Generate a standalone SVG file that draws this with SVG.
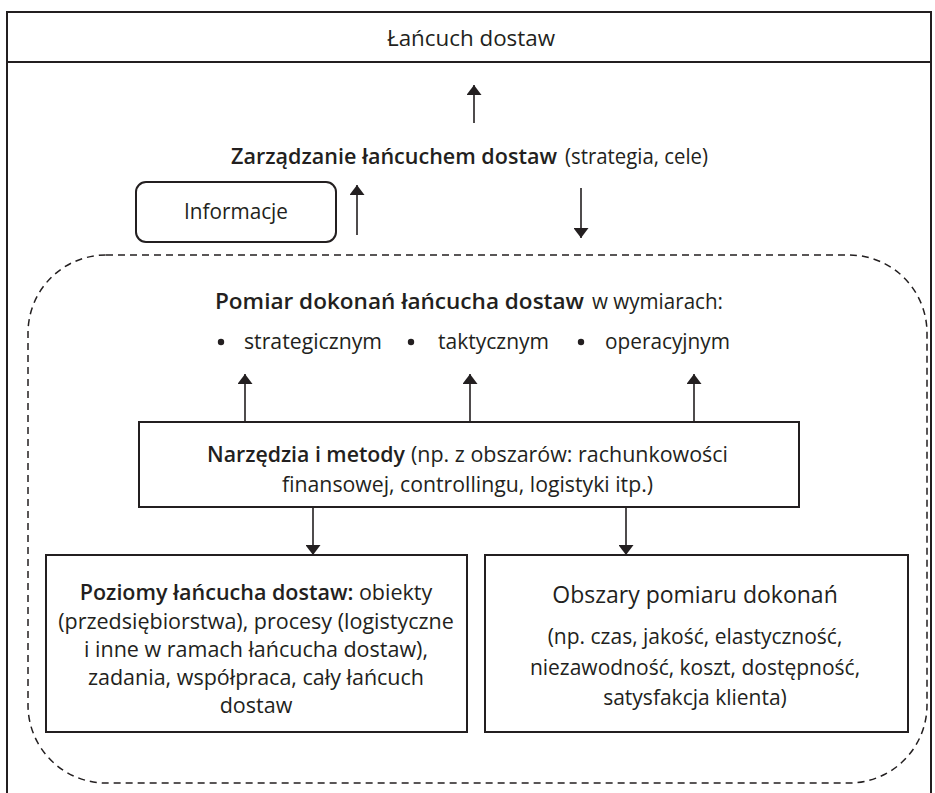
<svg xmlns="http://www.w3.org/2000/svg" width="935" height="793" viewBox="0 0 935 793">
<style>
.frame{fill:none;stroke:#231f20;stroke-width:2}
.box{fill:#fff;stroke:#231f20;stroke-width:2}
.dash{fill:none;stroke:#231f20;stroke-width:1.5;stroke-dasharray:7 5}
.conn line{stroke:#231f20;stroke-width:1.6}
.t{font-family:"Open Sans","Noto Sans",sans-serif;font-size:22px;fill:#231f20}
.b{font-family:"Open Sans","Noto Sans",sans-serif;font-size:21px;fill:#231f20}
.bl{font-size:21.5px}
.bold{font-weight:600}
</style>
<defs>
<marker id="ah" viewBox="0 0 10 15" refX="10" refY="7.5" markerWidth="10" markerHeight="15" markerUnits="userSpaceOnUse" orient="auto">
<path d="M0,0 L10,7.5 L0,15 Z" fill="#231f20"/>
</marker>
</defs>
<rect width="935" height="793" fill="#fff"/>

<g id="lancuch">
<rect class="frame" x="7" y="12" width="924" height="800"/>
<line class="frame" x1="7" y1="62" x2="931" y2="62"/>
<text class="t" x="387" y="46" textLength="168" lengthAdjust="spacingAndGlyphs">Łańcuch dostaw</text>
</g>

<g id="zarzadzanie">
<text class="t bold" x="231" y="164" textLength="326" lengthAdjust="spacingAndGlyphs">Zarządzanie łańcuchem dostaw</text>
<text class="t" x="565" y="164" textLength="143" lengthAdjust="spacingAndGlyphs">(strategia, cele)</text>
</g>

<g id="informacje">
<rect class="box" x="136" y="182" width="200" height="60" rx="10"/>
<text class="t" x="184" y="219" textLength="104" lengthAdjust="spacingAndGlyphs">Informacje</text>
</g>

<g id="pomiar">
<rect class="dash" x="28" y="255" width="899" height="528" rx="78"/>
<text class="t bold" x="215" y="309" textLength="369" lengthAdjust="spacingAndGlyphs">Pomiar dokonań łańcucha dostaw</text>
<text class="t" x="592" y="309" textLength="131" lengthAdjust="spacingAndGlyphs">w wymiarach:</text>
<circle cx="221" cy="342" r="3.2" fill="#231f20"/>
<text class="t" x="244" y="349" textLength="138" lengthAdjust="spacingAndGlyphs">strategicznym</text>
<circle cx="411" cy="342" r="3.2" fill="#231f20"/>
<text class="t" x="438" y="349" textLength="111" lengthAdjust="spacingAndGlyphs">taktycznym</text>
<circle cx="581" cy="342" r="3.2" fill="#231f20"/>
<text class="t" x="605" y="349" textLength="125" lengthAdjust="spacingAndGlyphs">operacyjnym</text>
</g>

<g id="narzedzia">
<rect class="box" x="139" y="422" width="660" height="85"/>
<text class="t bold" x="207" y="462" textLength="198" lengthAdjust="spacingAndGlyphs">Narzędzia i metody</text>
<text class="t" x="411" y="462" textLength="317" lengthAdjust="spacingAndGlyphs">(np. z obszarów: rachunkowości</text>
<text class="t" x="282" y="492" textLength="371" lengthAdjust="spacingAndGlyphs">finansowej, controllingu, logistyki itp.)</text>
</g>

<g id="poziomy">
<rect class="box" x="46" y="555" width="421" height="177"/>
<text class="b bl" x="256" text-anchor="middle"><tspan x="256" y="600"><tspan class="bold">Poziomy łańcucha dostaw:</tspan> obiekty</tspan><tspan x="256" y="629">(przedsiębiorstwa), procesy (logistyczne</tspan><tspan x="256" y="657">i inne w ramach łańcucha dostaw),</tspan><tspan x="256" y="685">zadania, współpraca, cały łańcuch</tspan><tspan x="256" y="713">dostaw</tspan></text>
</g>

<g id="obszary">
<rect class="box" x="485" y="555" width="423" height="177"/>
<text class="b" x="695" text-anchor="middle"><tspan x="695" y="603" font-size="23">Obszary pomiaru dokonań</tspan><tspan x="695" y="644">(np. czas, jakość, elastyczność,</tspan><tspan x="695" y="675">niezawodność, koszt, dostępność,</tspan><tspan x="695" y="705">satysfakcja klienta)</tspan></text>
</g>

<g id="connectors" class="conn">
<line x1="474" y1="123" x2="474" y2="85" marker-end="url(#ah)"/>
<line x1="357" y1="235" x2="357" y2="185" marker-end="url(#ah)"/>
<line x1="581" y1="188" x2="581" y2="238" marker-end="url(#ah)"/>
<line x1="245" y1="422" x2="245" y2="374" marker-end="url(#ah)"/>
<line x1="470" y1="422" x2="470" y2="374" marker-end="url(#ah)"/>
<line x1="694" y1="422" x2="694" y2="374" marker-end="url(#ah)"/>
<line x1="313" y1="507" x2="313" y2="555" marker-end="url(#ah)"/>
<line x1="626" y1="507" x2="626" y2="555" marker-end="url(#ah)"/>
</g>
</svg>
